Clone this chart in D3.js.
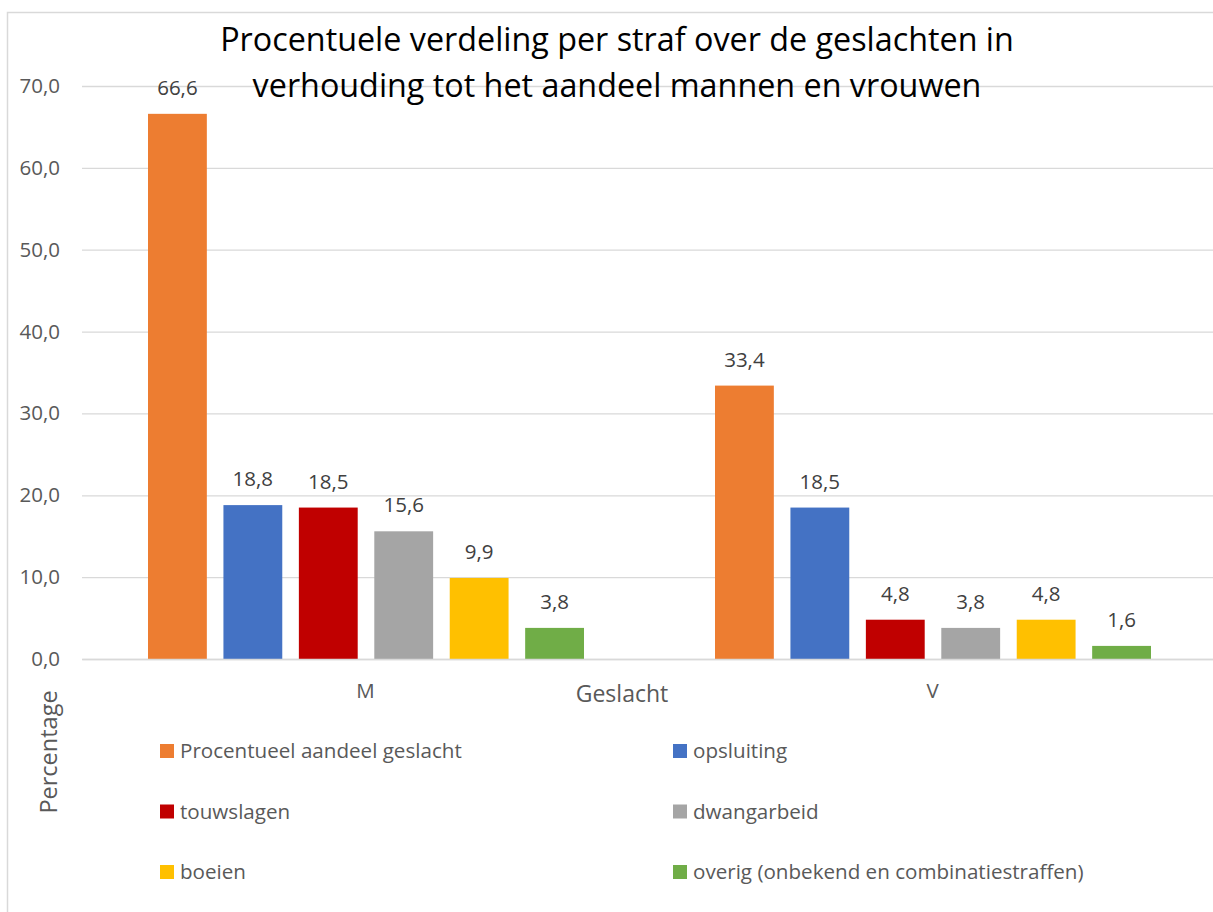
<!DOCTYPE html>
<html><head><meta charset="utf-8">
<script src="https://cdn.jsdelivr.net/npm/d3@7"></script>
<style>
html,body{margin:0;padding:0;background:#fff;}
svg{display:block;font-family:"Open Sans",sans-serif;}
</style></head>
<body><svg id="c" width="1213" height="912"></svg>
<script>
const categories = ["M", "V"];
const seriesNames = ["Procentueel aandeel geslacht", "opsluiting", "touwslagen", "dwangarbeid", "boeien", "overig (onbekend en combinatiestraffen)"];
const seriesColors = ["#ED7D31", "#4472C4", "#C00000", "#A5A5A5", "#FFC000", "#70AD47"];
const valuesM = [66.6, 18.8, 18.5, 15.6, 9.9, 3.8];
const valuesV = [33.4, 18.5, 4.8, 3.8, 4.8, 1.6];
const yTicks = [0, 10, 20, 30, 40, 50, 60, 70];
const titleLines = ["Procentuele verdeling per straf over de geslachten in", "verhouding tot het aandeel mannen en vrouwen"];
const xTitle = "Geslacht";
const yTitle = "Percentage";

const values = {M: valuesM, V: valuesV};
const svg = d3.select("#c");
const fmt = v => d3.format(".1f")(v).replace(".", ",");

// chart border
svg.append("rect").attr("x", 7.5).attr("y", 12.5).attr("width", 1240).attr("height", 940)
  .attr("fill", "none").attr("stroke", "#d9d9d9").attr("stroke-width", 1.5);

const plotL = 82, plotR = 1216, plotT = 86, plotB = 659;
const y = d3.scaleLinear().domain([0, 70]).range([plotB, plotT]);
const x0 = d3.scaleBand().domain(categories).range([plotL, plotR]);
const x1 = d3.scaleBand().domain(d3.range(seriesNames.length)).range([66, x0.bandwidth() - 65]).paddingInner(0.22);

// grid
const yAxis = d3.axisLeft(y).tickValues(yTicks).tickSize(-(plotR - plotL)).tickFormat(fmt).tickPadding(22);
const gy = svg.append("g").attr("transform", `translate(${plotL},0)`).call(yAxis);
gy.select(".domain").remove();
gy.selectAll(".tick line").attr("stroke", "#d9d9d9").attr("stroke-width", 1.3);
gy.selectAll(".tick text").attr("fill", "#595959").attr("font-size", 20.5).attr("font-family", "Open Sans");

// bars
const groups = svg.append("g").selectAll("g").data(categories).join("g")
  .attr("transform", d => `translate(${x0(d)},0)`);
groups.selectAll("rect").data(c => values[c].map((v, i) => ({v, i}))).join("rect")
  .attr("x", d => x1(d.i)).attr("width", x1.bandwidth())
  .attr("y", d => y(d.v)).attr("height", d => y(0) - y(d.v))
  .attr("fill", d => seriesColors[d.i]);
groups.selectAll("text").data(c => values[c].map((v, i) => ({v, i}))).join("text")
  .attr("x", d => x1(d.i) + x1.bandwidth() / 2).attr("y", d => y(d.v) - 19)
  .attr("text-anchor", "middle").attr("fill", "#404040").attr("font-size", 20.5)
  .text(d => fmt(d.v));

// x axis
const xAxis = d3.axisBottom(x0).tickSize(0).tickPadding(24);
const gx = svg.append("g").attr("transform", `translate(0,${plotB})`).call(xAxis);
gx.select(".domain").attr("stroke", "#d9d9d9").attr("stroke-width", 1.3);
gx.selectAll(".tick text").attr("fill", "#595959").attr("font-size", 20.5).attr("font-family", "Open Sans");

svg.append("text").attr("x", 622).attr("y", 702).attr("text-anchor", "middle")
  .attr("fill", "#595959").attr("font-size", 23).text(xTitle);
svg.append("text").attr("transform", "translate(57,752) rotate(-90)").attr("text-anchor", "middle")
  .attr("fill", "#595959").attr("font-size", 23.5).text(yTitle);

// title
svg.append("g").selectAll("text").data(titleLines).join("text")
  .attr("x", 617).attr("y", (d, i) => 51 + i * 46).attr("text-anchor", "middle")
  .attr("fill", "#000").attr("font-size", 32.3).text(d => d);

// legend
const leg = svg.append("g").selectAll("g").data(seriesNames).join("g")
  .attr("transform", (d, i) => `translate(${i % 2 === 0 ? 160 : 673},${744 + Math.floor(i / 2) * 60.5})`);
leg.append("rect").attr("width", 14).attr("height", 14).attr("fill", (d, i) => seriesColors[i]);
leg.append("text").attr("x", 20).attr("y", 14).attr("fill", "#595959").attr("font-size", 20.6).text(d => d);
</script></body></html>
